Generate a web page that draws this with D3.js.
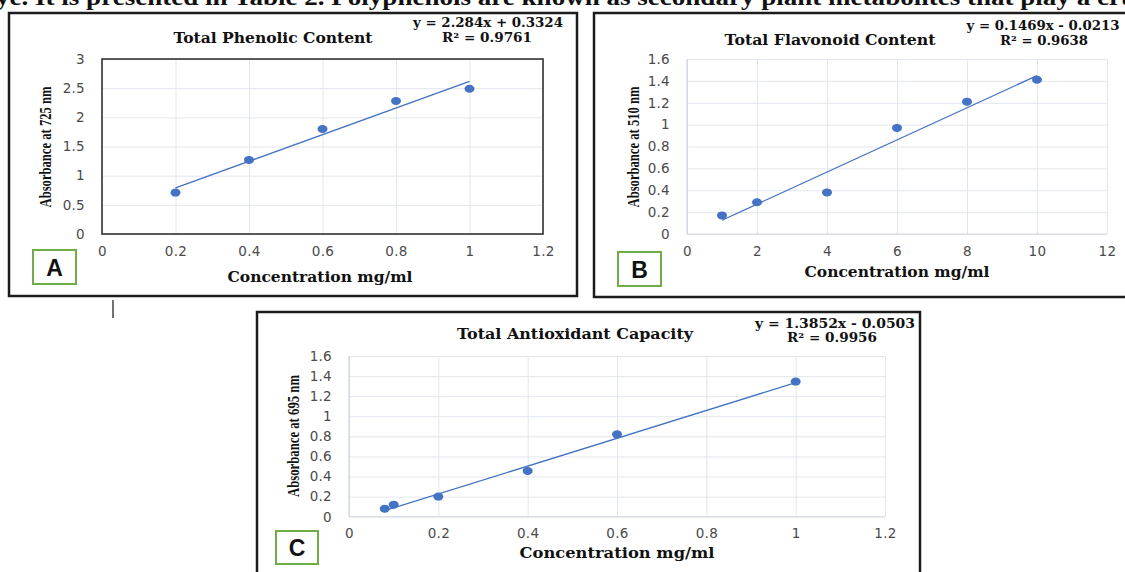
<!DOCTYPE html>
<html>
<head>
<meta charset="utf-8">
<script src="https://cdnjs.cloudflare.com/ajax/libs/d3/7.8.5/d3.min.js"></script>
<style>
  body { margin: 0; background: #fff; }
  svg { display: block; }
</style>
</head>
<body>
<div id="chart"></div>
<script>
// panel A - total phenolic content
var phenolicX = [0.2, 0.4, 0.6, 0.8, 1.0];
var phenolicY = [0.71, 1.27, 1.80, 2.28, 2.49];
var phenolicXTicks = [0, 0.2, 0.4, 0.6, 0.8, 1, 1.2];
var phenolicYTicks = [0, 0.5, 1, 1.5, 2, 2.5, 3];

// panel B - total flavonoid content
var flavonoidX = [1, 2, 4, 6, 8, 10];
var flavonoidY = [0.17, 0.29, 0.38, 0.97, 1.21, 1.41];
var flavonoidXTicks = [0, 2, 4, 6, 8, 10, 12];
var flavonoidYTicks = [0, 0.2, 0.4, 0.6, 0.8, 1, 1.2, 1.4, 1.6];

// panel C - total antioxidant capacity
var antioxX = [0.08, 0.1, 0.2, 0.4, 0.6, 1.0];
var antioxY = [0.08, 0.12, 0.20, 0.455, 0.82, 1.345];
var antioxXTicks = [0, 0.2, 0.4, 0.6, 0.8, 1, 1.2];
var antioxYTicks = [0, 0.2, 0.4, 0.6, 0.8, 1, 1.2, 1.4, 1.6];

// trendline coefficients (slope, intercept) as printed on the chart
var trendA = [2.284, 0.3324];
var trendB = [0.1469, -0.0213];
var trendC = [1.3852, -0.0503];

var titles = ["Total Phenolic Content", "Total Flavonoid Content", "Total Antioxidant Capacity"];
var equations = ["y = 2.284x + 0.3324", "y = 0.1469x - 0.0213", "y = 1.3852x - 0.0503"];
var rSquared = ["R\u00b2 = 0.9761", "R\u00b2 = 0.9638", "R\u00b2 = 0.9956"];
var yTitles = ["Absorbance at 725 nm", "Absorbance at 510 nm", "Absorbance at 695 nm"];
var xTitle = "Concentration mg/ml";
var panelLetters = ["A", "B", "C"];

var width = 1125, height = 572;
var blue = "#4472c4", grid = "#e2e6ee", tickColor = "#4a4a4a";
var serif = "'DejaVu Serif', serif";

var svg = d3.select("#chart").append("svg")
    .attr("width", width)
    .attr("height", height);

// cut off line of body text above the figure
svg.append("text")
    .attr("x", -4).attr("y", 5)
    .attr("textLength", 1140).attr("lengthAdjust", "spacingAndGlyphs")
    .style("font-family", "'Liberation Serif', serif")
    .style("font-size", "24px").style("font-weight", "bold")
    .style("fill", "#111")
    .text("ye. It is presented in Table 2. Polyphenols are known as secondary plant metabolites that play a cru");

// layout of each panel (pixels)
var panels = [
  {xs: phenolicX, ys: phenolicY, xt: phenolicXTicks, yt: phenolicYTicks, trend: trendA,
   frame: [9, 13, 568, 283], plot: [102, 59, 543, 234], border: true,
   title: [273, 43, 199], eq: [488, 27, 150], r2: [487, 42, 90],
   xlab: [320, 282, 185], ylab: [51, 147, 121], box: [33, 250, 43, 34]},
  {xs: flavonoidX, ys: flavonoidY, xt: flavonoidXTicks, yt: flavonoidYTicks, trend: trendB,
   frame: [594, 13, 560, 284], plot: [687, 59, 1107, 234], border: false,
   title: [830, 45, 211], eq: [1043, 30, 153], r2: [1044, 45, 88],
   xlab: [897, 277, 185], ylab: [639, 147, 121], box: [618, 252, 43, 34]},
  {xs: antioxX, ys: antioxY, xt: antioxXTicks, yt: antioxYTicks, trend: trendC,
   frame: [257, 312, 663, 290], plot: [349, 356, 885, 516.7], border: false,
   title: [575, 339, 236], eq: [835, 328, 160], r2: [832, 342, 90],
   xlab: [617, 558, 195], ylab: [299, 436, 122], box: [276, 531, 42, 33]}
];

panels.forEach(function(p, i) {
  var g = svg.append("g");

  // outer frame
  g.append("rect")
      .attr("x", p.frame[0]).attr("y", p.frame[1])
      .attr("width", p.frame[2]).attr("height", p.frame[3])
      .style("fill", "none").style("stroke", "#1c1c1c").style("stroke-width", 2.5);

  var x = d3.scaleLinear()
      .domain(d3.extent(p.xt))
      .range([p.plot[0], p.plot[2]]);
  var y = d3.scaleLinear()
      .domain(d3.extent(p.yt))
      .range([p.plot[3], p.plot[1]]);
  var ph = p.plot[3] - p.plot[1], pw = p.plot[2] - p.plot[0];

  // axes with gridlines
  var xAxis = g.append("g")
      .attr("transform", "translate(0," + p.plot[3] + ")")
      .call(d3.axisBottom(x).tickValues(p.xt).tickSize(-ph).tickPadding(12).tickFormat(String));
  var yAxis = g.append("g")
      .attr("transform", "translate(" + p.plot[0] + ",0)")
      .call(d3.axisLeft(y).tickValues(p.yt).tickSize(-pw).tickPadding(17).tickFormat(String));

  [xAxis, yAxis].forEach(function(ax) {
    ax.select(".domain").remove();
    ax.selectAll(".tick line").style("stroke", grid).style("stroke-width", 1);
    ax.selectAll(".tick text")
        .style("font-family", "'DejaVu Sans', sans-serif")
        .style("font-size", "13.5px")
        .style("letter-spacing", "0.3px")
        .style("fill", tickColor);
  });

  if (p.border) {
    g.append("rect")
        .attr("x", p.plot[0]).attr("y", p.plot[1])
        .attr("width", pw).attr("height", ph)
        .style("fill", "none").style("stroke", "#333").style("stroke-width", 1.6);
  } else {
    g.append("line")
        .attr("x1", p.plot[0]).attr("x2", p.plot[0])
        .attr("y1", p.plot[1]).attr("y2", p.plot[3])
        .style("stroke", "#c9d4e6").style("stroke-width", 1.2);
    g.append("line")
        .attr("x1", p.plot[0]).attr("x2", p.plot[2])
        .attr("y1", p.plot[3]).attr("y2", p.plot[3])
        .style("stroke", "#d6d9de").style("stroke-width", 1);
  }

  // linear trendline across the data range
  var xMin = d3.min(p.xs), xMax = d3.max(p.xs);
  g.append("line")
      .attr("x1", x(xMin)).attr("y1", y(p.trend[0] * xMin + p.trend[1]))
      .attr("x2", x(xMax)).attr("y2", y(p.trend[0] * xMax + p.trend[1]))
      .style("stroke", blue).style("stroke-width", 1.3);

  // data points
  g.selectAll("ellipse")
      .data(p.xs.map(function(d, j) { return [d, p.ys[j]]; }))
      .enter()
      .append("ellipse")
        .attr("cx", function(d) { return x(d[0]); })
        .attr("cy", function(d) { return y(d[1]); })
        .attr("rx", 5).attr("ry", 4)
        .style("fill", blue);

  function label(pos, txt, size) {
    return g.append("text")
        .attr("x", pos[0]).attr("y", pos[1])
        .attr("text-anchor", "middle")
        .attr("textLength", pos[2]).attr("lengthAdjust", "spacingAndGlyphs")
        .style("font-family", serif).style("font-weight", "bold")
        .style("font-size", size).style("fill", "#111")
        .text(txt);
  }
  label(p.title, titles[i], "15px");
  label(p.eq, equations[i], "13px");
  label(p.r2, rSquared[i], "13px");
  label(p.xlab, xTitle, "15px");

  // y axis title, narrow serif
  g.append("text")
      .attr("transform", "translate(" + p.ylab[0] + "," + p.ylab[1] + ") rotate(-90)")
      .attr("text-anchor", "middle")
      .attr("textLength", p.ylab[2]).attr("lengthAdjust", "spacingAndGlyphs")
      .style("font-family", "'Liberation Serif', serif").style("font-weight", "bold")
      .style("font-size", "17px").style("fill", "#111")
      .text(yTitles[i]);

  // green letter box
  g.append("rect")
      .attr("x", p.box[0]).attr("y", p.box[1])
      .attr("width", p.box[2]).attr("height", p.box[3])
      .style("fill", "#fff").style("stroke", "#70ad47").style("stroke-width", 2);
  g.append("text")
      .attr("x", p.box[0] + p.box[2] / 2).attr("y", p.box[1] + p.box[3] / 2 + 8.5)
      .attr("text-anchor", "middle")
      .style("font-family", "'Liberation Sans', Arial, sans-serif").style("font-weight", "bold")
      .style("font-size", "23px").style("fill", "#111")
      .text(panelLetters[i]);
});

// stray cursor mark under panel A
svg.append("line")
    .attr("x1", 113).attr("x2", 113).attr("y1", 300).attr("y2", 318)
    .style("stroke", "#444").style("stroke-width", 1.5);
</script>
</body>
</html>
